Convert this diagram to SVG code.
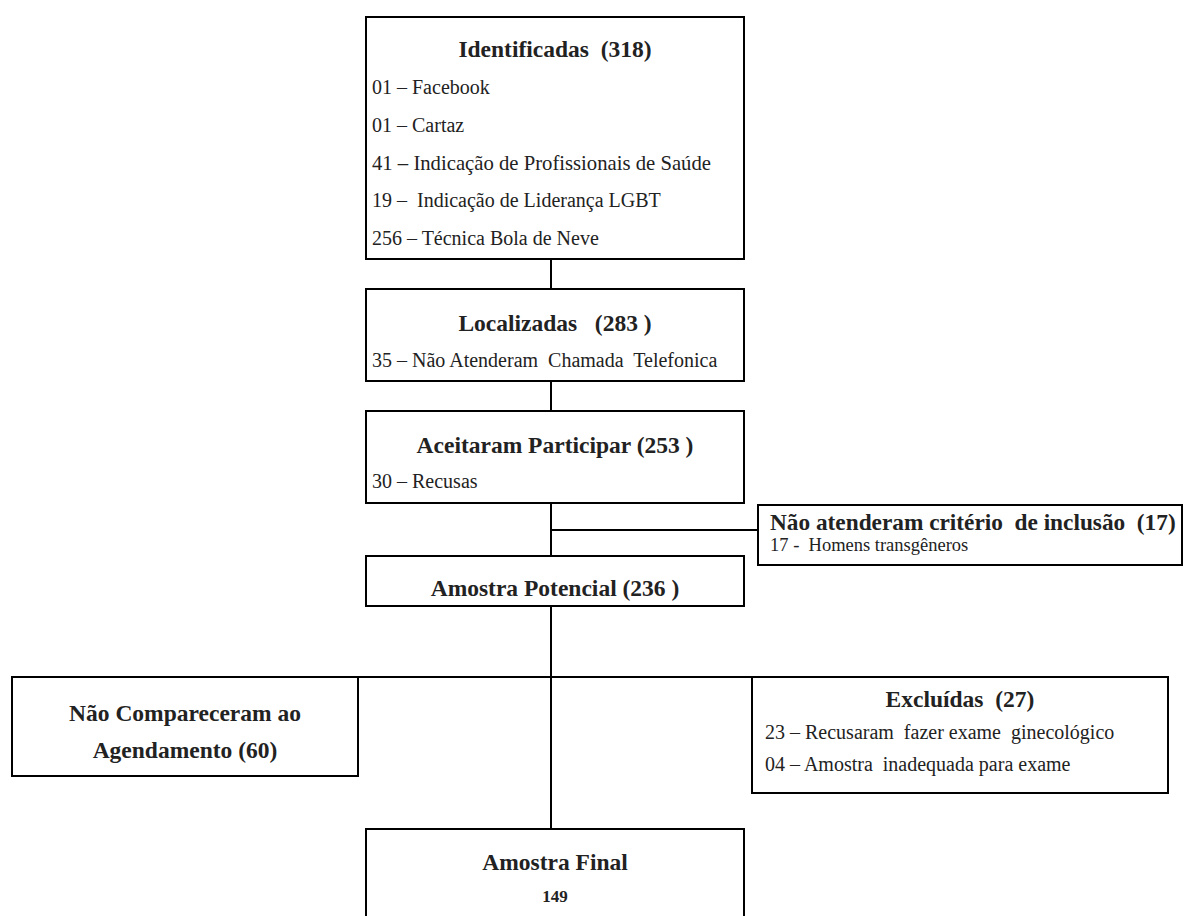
<svg xmlns="http://www.w3.org/2000/svg" width="1186" height="916" viewBox="0 0 1186 916" font-family="'Liberation Serif', 'Times New Roman', serif">
<style>
.box{fill:#fff;stroke:#000;stroke-width:2}
.ln{stroke:#000;stroke-width:2;fill:none}
.t{fill:#222}
.h{font-size:23.5px;font-weight:bold;text-anchor:middle}
.b{font-size:20px}
.s{font-size:18.5px}
</style>
<rect width="1186" height="916" fill="#fff"/>
<g id="connectors">
<line class="ln" x1="551" y1="259" x2="551" y2="289"/>
<line class="ln" x1="551" y1="381" x2="551" y2="411"/>
<line class="ln" x1="551" y1="503" x2="551" y2="556"/>
<line class="ln" x1="551" y1="530" x2="758" y2="530"/>
<line class="ln" x1="551" y1="606" x2="551" y2="829"/>
<line class="ln" x1="358" y1="677" x2="752" y2="677"/>
</g>
<g id="identificadas">
<rect class="box" x="366" y="17" width="378" height="242"/>
<text class="t h" x="555" y="57" xml:space="preserve">Identificadas  (318)</text>
<text class="t b" x="372" y="94">01 – Facebook</text>
<text class="t b" x="372" y="132">01 – Cartaz</text>
<text class="t b" x="372" y="170" style="font-size:20.7px">41 – Indicação de Profissionais de Saúde</text>
<text class="t b" x="372" y="207" xml:space="preserve">19 –  Indicação de Liderança LGBT</text>
<text class="t b" x="372" y="245">256 – Técnica Bola de Neve</text>
</g>
<g id="localizadas">
<rect class="box" x="366" y="289" width="378" height="92"/>
<text class="t h" x="555" y="331" xml:space="preserve">Localizadas   (283 )</text>
<text class="t b" x="372" y="367" xml:space="preserve">35 – Não Atenderam  Chamada  Telefonica</text>
</g>
<g id="aceitaram">
<rect class="box" x="366" y="411" width="378" height="92"/>
<text class="t h" x="555" y="453">Aceitaram Participar (253 )</text>
<text class="t b" x="372" y="488">30 – Recusas</text>
</g>
<g id="nao-atenderam">
<rect class="box" x="758" y="505" width="424" height="60"/>
<text class="t" x="770" y="530" font-size="23.3" font-weight="bold" xml:space="preserve">Não atenderam critério  de inclusão  (17)</text>
<text class="t s" x="770" y="551" xml:space="preserve">17 -  Homens transgêneros</text>
</g>
<g id="potencial">
<rect class="box" x="366" y="556" width="378" height="50"/>
<text class="t h" x="555" y="596">Amostra Potencial (236 )</text>
</g>
<g id="nao-compareceram">
<rect class="box" x="12" y="677" width="346" height="99"/>
<text class="t h" x="185" y="721">Não Compareceram ao</text>
<text class="t h" x="185" y="758">Agendamento (60)</text>
</g>
<g id="excluidas">
<rect class="box" x="752" y="677" width="416" height="116"/>
<text class="t h" x="960" y="707" xml:space="preserve">Excluídas  (27)</text>
<text class="t b" x="765" y="739" xml:space="preserve">23 – Recusaram  fazer exame  ginecológico</text>
<text class="t b" x="765" y="771" xml:space="preserve">04 – Amostra  inadequada para exame</text>
</g>
<g id="final">
<rect class="box" x="366" y="829" width="378" height="100"/>
<text class="t h" x="555" y="870">Amostra Final</text>
<text class="t" x="555" y="902" font-size="17" font-weight="bold" text-anchor="middle">149</text>
</g>
</svg>
